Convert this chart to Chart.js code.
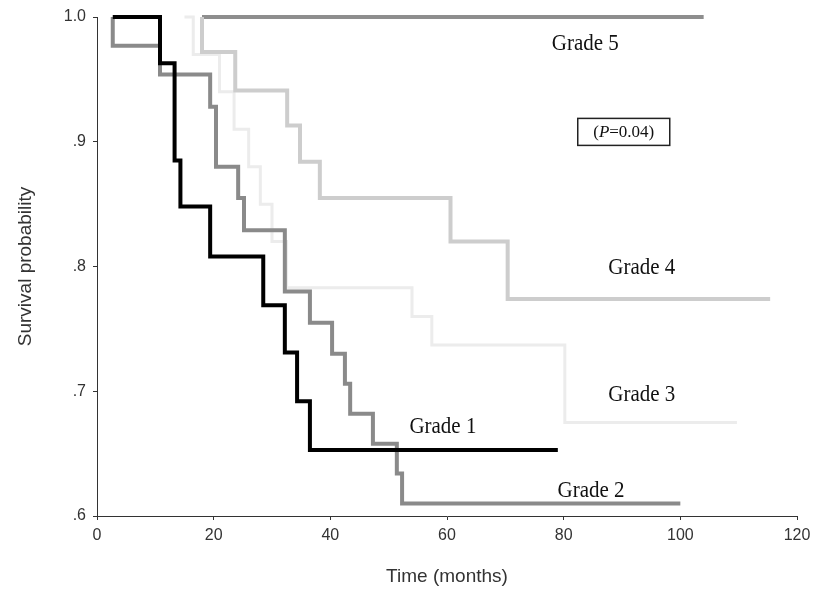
<!DOCTYPE html>
<html>
<head>
<meta charset="utf-8">
<script src="https://cdn.jsdelivr.net/npm/chart.js@4.4.0/dist/chart.umd.min.js"></script>
<style>
    html, body { margin: 0; padding: 0; background: #fff; }
    #wrap { width: 817px; height: 591px; }
</style>
</head>
<body>
<div id="wrap"><canvas id="kmChart" width="817" height="591"></canvas></div>
<script>
// Kaplan-Meier curves: time (months) and survival after each step
const grade1Time = [2.7, 10.8, 13.3, 14.3, 19.4, 28.5, 32.2, 34.3, 36.5, 79];
const grade1Surv = [1.0, 0.963, 0.885, 0.848, 0.808, 0.769, 0.731, 0.692, 0.653, 0.653];

const grade2Time = [2.7, 2.7, 10.8, 19.4, 20.4, 24.2, 25.2, 32.2, 36.5, 40.3, 42.5, 43.4, 47.3, 51.4, 52.3, 100];
const grade2Surv = [1.0, 0.977, 0.954, 0.928, 0.88, 0.855, 0.829, 0.78, 0.755, 0.73, 0.706, 0.682, 0.658, 0.634, 0.61, 0.61];

const grade3Time = [15, 16.5, 21, 23.5, 26, 28, 30, 32.5, 54, 57.4, 80.2, 109.7];
const grade3Surv = [1.0, 0.97, 0.94, 0.91, 0.88, 0.85, 0.82, 0.783, 0.76, 0.737, 0.675, 0.675];

const grade4Time = [18, 18, 23.7, 32.6, 34.8, 38.2, 60.6, 70.4, 115.4];
const grade4Surv = [1.0, 0.972, 0.941, 0.913, 0.884, 0.855, 0.82, 0.774, 0.774];

const grade5Time = [18, 104];
const grade5Surv = [1.0, 1.0];

const xTicks = [0, 20, 40, 60, 80, 100, 120];
const yTicks = [0.6, 0.7, 0.8, 0.9, 1.0];

// curve labels placed in data units
const curveLabels = [
    { text: 'Grade 5', x: 83.7, y: 0.978 },
    { text: 'Grade 4', x: 93.4, y: 0.799 },
    { text: 'Grade 3', x: 93.4, y: 0.697 },
    { text: 'Grade 1', x: 59.3, y: 0.671 },
    { text: 'Grade 2', x: 84.7, y: 0.62 }
];

function toPoints(times, surv) {
    return times.map((t, i) => ({ x: t, y: surv[i] }));
}

function curve(label, times, surv, color, width, order) {
    return {
        label: label,
        data: toPoints(times, surv),
        borderColor: color,
        borderWidth: width,
        stepped: 'before',
        pointRadius: 0,
        fill: false,
        clip: false,
        order: order
    };
}

// draws the grade labels and the p-value box
const annotationPlugin = {
    id: 'annotations',
    afterDatasetsDraw(chart) {
        const ctx = chart.ctx;
        const xs = chart.scales.x;
        const ys = chart.scales.y;
        ctx.save();
        ctx.fillStyle = '#111';
        ctx.textAlign = 'center';
        ctx.textBaseline = 'middle';
        curveLabels.forEach(l => {
            ctx.save();
            ctx.translate(xs.getPixelForValue(l.x), ys.getPixelForValue(l.y));
            ctx.scale(1.05, 1.15);
            ctx.font = '20px "Liberation Serif", serif';
            ctx.fillText(l.text, 0, 0);
            ctx.restore();
        });

        // (P=0.04) box
        const cx = xs.getPixelForValue(90.3);
        const cy = ys.getPixelForValue(0.9075);
        ctx.font = 'italic 17px "Liberation Serif", serif';
        const wP = ctx.measureText('P').width;
        ctx.font = '17px "Liberation Serif", serif';
        const w1 = ctx.measureText('(').width;
        const w2 = ctx.measureText('=0.04)').width;
        const total = w1 + wP + w2;
        let x0 = cx - total / 2;
        ctx.textAlign = 'left';
        ctx.fillText('(', x0, cy);
        ctx.font = 'italic 17px "Liberation Serif", serif';
        ctx.fillText('P', x0 + w1, cy);
        ctx.font = '17px "Liberation Serif", serif';
        ctx.fillText('=0.04)', x0 + w1 + wP, cy);
        ctx.strokeStyle = '#222';
        ctx.lineWidth = 1.5;
        ctx.strokeRect(cx - 46, cy - 14, 92, 27);
        ctx.restore();
    }
};

const ctx = document.getElementById('kmChart').getContext('2d');
new Chart(ctx, {
    type: 'line',
    data: {
        datasets: [
            curve('Grade 1', grade1Time, grade1Surv, '#000000', 4, 0),
            curve('Grade 2', grade2Time, grade2Surv, '#8a8a8a', 4, 1),
            curve('Grade 4', grade4Time, grade4Surv, '#cdcdcd', 4, 2),
            curve('Grade 5', grade5Time, grade5Surv, '#8e8e8e', 4, 3),
            curve('Grade 3', grade3Time, grade3Surv, '#ececec', 3, 4)
        ]
    },
    options: {
        responsive: false,
        animation: false,
        layout: { padding: { top: 17, right: 20, left: 0, bottom: 0 } },
        plugins: {
            legend: { display: false },
            tooltip: { enabled: false }
        },
        scales: {
            x: {
                type: 'linear',
                min: 0,
                max: 120,
                afterBuildTicks: axis => { axis.ticks = xTicks.map(v => ({ value: v })); },
                afterFit: axis => { axis.height = 75; },
                grid: { drawOnChartArea: false, drawTicks: true, tickLength: 4, color: '#333' },
                border: { display: true, color: '#333', width: 1 },
                ticks: { color: '#333', font: { family: '"Liberation Sans", Arial', size: 16 }, padding: 6 },
                title: {
                    display: true,
                    text: 'Time (months)',
                    color: '#333',
                    font: { family: '"Liberation Sans", Arial', size: 19 },
                    padding: { top: 0, bottom: 3 }
                }
            },
            y: {
                type: 'linear',
                min: 0.6,
                max: 1.0,
                afterBuildTicks: axis => { axis.ticks = yTicks.map(v => ({ value: v })); },
                afterFit: axis => { axis.width = 97; },
                grid: { drawOnChartArea: false, drawTicks: true, tickLength: 4, color: '#333' },
                border: { display: true, color: '#333', width: 1 },
                ticks: {
                    color: '#333',
                    font: { family: '"Liberation Sans", Arial', size: 16 },
                    padding: 7,
                    callback: v => v >= 0.999 ? '1.0' : '.' + Math.round(v * 10)
                },
                title: {
                    display: true,
                    text: 'Survival probability',
                    color: '#333',
                    font: { family: '"Liberation Sans", Arial', size: 19 },
                    padding: { top: 14, bottom: 0 }
                }
            }
        }
    },
    plugins: [annotationPlugin]
});
</script>
</body>
</html>
